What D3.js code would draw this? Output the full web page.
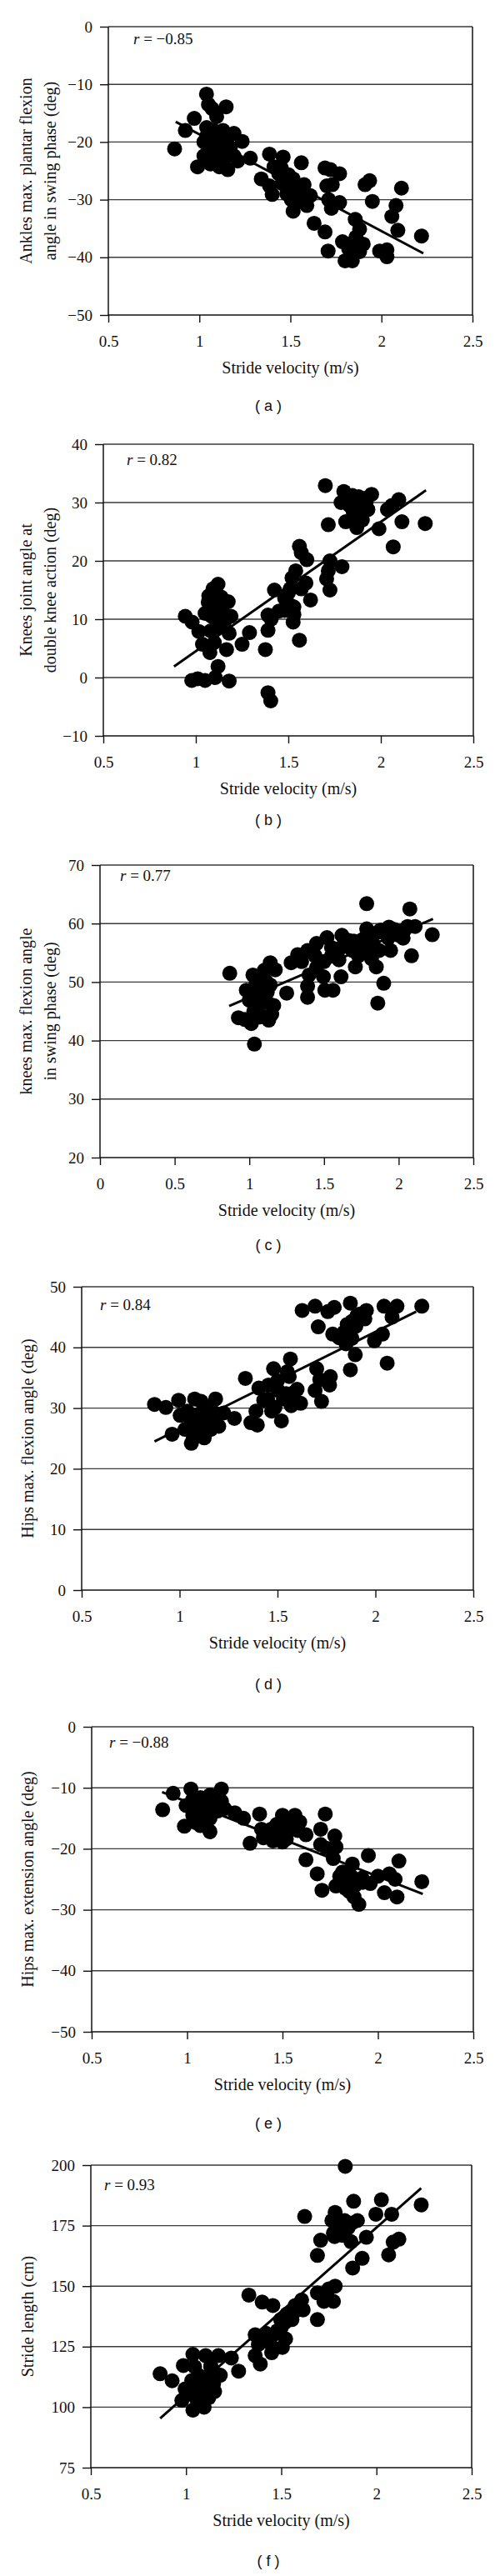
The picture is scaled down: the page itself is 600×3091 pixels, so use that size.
<!DOCTYPE html>
<html><head><meta charset="utf-8">
<script src="https://cdn.jsdelivr.net/npm/d3@7"></script>
<style>body{margin:0;background:#fff} svg{display:block}</style>
</head><body>
<svg id="chart" width="600" height="3091"></svg>
<script>
// ---------- DATA (stride velocity m/s, measured value) ----------
const xTicksStd = [0.5, 1, 1.5, 2, 2.5];
const xTicksC = [0, 0.5, 1, 1.5, 2, 2.5];

const ankleData = [[0.864,-21.2],[0.923,-18.0],[0.972,-15.9],[0.99,-24.3],[1.039,-11.7],[1.05,-13.5],[1.07,-14.2],[1.095,-15.6],[1.147,-13.9],[1.025,-20.0],[1.04,-17.5],[1.06,-21.6],[1.025,-22.4],[1.06,-23.8],[1.11,-24.3],[1.13,-18.0],[1.16,-19.0],[1.19,-18.5],[1.13,-20.4],[1.16,-21.6],[1.19,-22.4],[1.156,-24.8],[1.095,-21.9],[1.11,-19.5],[1.235,-19.9],[1.28,-22.8],[1.21,-23.3],[1.34,-26.4],[1.385,-22.1],[1.46,-22.6],[1.385,-27.6],[1.40,-29.1],[1.41,-24.3],[1.436,-25.5],[1.455,-27.2],[1.49,-25.7],[1.515,-26.4],[1.53,-28.1],[1.56,-23.6],[1.575,-27.4],[1.505,-30.0],[1.515,-32.0],[1.55,-29.6],[1.59,-31.0],[1.61,-29.3],[1.63,-34.1],[1.69,-24.5],[1.72,-24.8],[1.70,-27.6],[1.73,-27.4],[1.77,-25.5],[1.71,-30.0],[1.725,-31.5],[1.77,-30.5],[1.69,-35.6],[1.707,-38.9],[1.786,-37.3],[1.80,-40.6],[1.84,-40.6],[1.83,-37.7],[1.856,-33.4],[1.88,-35.1],[1.90,-37.7],[1.91,-27.4],[1.935,-26.7],[1.95,-30.3],[1.99,-38.9],[2.03,-38.7],[2.03,-39.9],[2.057,-32.9],[2.08,-31.0],[2.09,-35.3],[2.11,-28.0],[2.22,-36.3],
 [1.04,-19],[1.07,-20.5],[1.09,-22.5],[1.12,-21],[1.13,-23],[1.08,-18],[1.15,-19.5],[1.06,-23],[1.11,-19],[1.17,-21],[1.47,-26],[1.5,-28],[1.53,-30.5],[1.56,-28.5],[1.45,-24.5],[1.48,-29],[1.86,-36.5],[1.82,-38.5],[1.88,-39]];
const ankleFit = [[0.87,-16.5],[2.23,-39.3]];

const kneeDKAData = [[0.943,10.5],[0.98,9.5],[1.016,7.9],[0.978,-0.5],[1.01,-0.2],[1.05,-0.5],[1.105,0.0],[1.12,1.9],[1.18,-0.6],[1.036,5.7],[1.07,5.2],[1.076,4.3],[1.10,6.0],[1.166,4.8],[1.18,7.6],[1.067,12.9],[1.093,15.2],[1.12,16.0],[1.137,13.8],[1.175,13.0],[1.19,10.5],[1.154,9.5],[1.085,10.5],[1.05,11.0],[1.12,8.6],[1.137,11.4],[1.25,5.7],[1.29,7.7],[1.376,4.8],[1.39,8.1],[1.39,10.7],[1.407,10.0],[1.425,15.0],[1.39,-2.6],[1.405,-4.0],[1.45,11.4],[1.48,13.6],[1.51,12.4],[1.526,9.5],[1.53,12.1],[1.56,6.4],[1.52,17.1],[1.54,18.3],[1.51,15.2],[1.56,22.5],[1.57,21.4],[1.60,20.2],[1.595,16.2],[1.62,13.3],[1.57,15.2],[1.70,32.9],[1.716,26.2],[1.707,16.9],[1.725,15.0],[1.725,20.0],[1.716,18.3],[1.79,19.0],[1.785,30.0],[1.80,31.9],[1.81,26.7],[1.846,31.2],[1.863,27.6],[1.87,25.7],[1.89,29.8],[1.915,30.7],[1.93,28.8],[1.95,31.4],[1.99,25.5],[2.036,28.8],[2.06,29.5],[2.097,30.5],[2.067,22.4],[2.114,26.7],[2.24,26.4],
 [1.08,8],[1.1,10.5],[1.13,9],[1.1,12.5],[1.15,11],[1.07,14],[1.85,28.5],[1.9,27],[1.92,30],[1.88,31],[1.83,29.5],[1.48,11.5],[1.5,14.5],[1.53,10.8]];
const kneeDKAFit = [[0.882,1.9],[2.244,32.1]];

const kneeFlexData = [[0.869,51.5],[0.927,43.9],[0.97,43.6],[1.013,42.9],[1.034,39.4],[0.98,48.6],[1.024,51.2],[1.045,49.8],[1.00,46.9],[1.066,46.0],[1.088,44.1],[1.11,50.2],[1.14,53.3],[1.174,52.1],[1.163,46.0],[1.15,44.5],[1.077,47.9],[1.12,48.3],[1.056,47.4],[1.25,48.1],[1.28,53.3],[1.324,54.7],[1.39,55.4],[1.40,51.2],[1.39,49.3],[1.39,47.4],[1.45,56.6],[1.44,54.5],[1.496,50.9],[1.506,48.6],[1.52,57.6],[1.55,55.9],[1.56,48.6],[1.60,53.8],[1.614,50.9],[1.62,58.0],[1.667,57.1],[1.69,55.4],[1.71,52.6],[1.73,54.5],[1.76,57.3],[1.786,63.4],[1.786,59.1],[1.796,55.4],[1.818,54.0],[1.85,52.6],[1.87,55.4],[1.86,46.4],[1.90,49.8],[1.88,58.9],[1.935,59.4],[1.946,55.4],[2.0,58.0],[2.04,58.9],[2.075,62.5],[2.086,54.5],[2.11,59.5],[2.225,58.1],
 [1.03,45],[1.06,44],[1.09,48],[1.12,46.5],[1.14,49.5],[1.05,50],[1.1,52],[1.13,43.5],[1.02,47.5],[1.5,53.5],[1.55,54.5],[1.62,56],[1.7,57],[1.75,55],[1.8,57.5],[1.83,56.5],[1.86,58.5],[1.93,57.5],[1.97,59],[2.03,57.5],[2.06,59.5],[1.45,52.5],[1.35,53.5]];
const kneeFlexFit = [[0.865,45.9],[2.23,60.8]];

const hipFlexData = [[0.872,30.6],[0.93,30.1],[0.962,25.7],[0.995,31.3],[1.003,28.8],[1.028,26.5],[1.06,24.2],[1.077,31.5],[1.11,31.1],[1.10,28.3],[1.126,25.1],[1.16,26.5],[1.184,31.5],[1.175,27.9],[1.143,29.7],[1.06,27.9],[1.077,26.0],[1.225,29.2],[1.28,28.3],[1.336,34.9],[1.364,27.6],[1.397,27.2],[1.39,29.5],[1.405,33.3],[1.43,31.3],[1.454,33.8],[1.48,36.5],[1.487,30.1],[1.52,27.9],[1.503,32.9],[1.544,32.4],[1.56,35.2],[1.566,38.1],[1.57,30.4],[1.60,33.1],[1.618,30.8],[1.626,46.1],[1.692,46.8],[1.708,43.4],[1.70,36.5],[1.692,32.9],[1.725,31.1],[1.716,34.7],[1.77,35.2],[1.766,33.8],[1.757,45.9],[1.79,46.6],[1.782,42.2],[1.815,41.6],[1.85,40.6],[1.872,47.3],[1.856,43.8],[1.88,44.3],[1.872,36.3],[1.897,38.8],[1.905,45.2],[1.946,44.7],[1.954,46.1],[1.995,41.1],[2.036,42.2],[2.044,46.8],[2.06,37.4],[2.085,45.0],[2.11,46.8],[2.237,46.8],
 [1.04,29.5],[1.08,27],[1.1,29],[1.13,27.5],[1.15,30],[1.12,25.5],[1.07,25],[1.18,29.2],[1.2,27],[1.45,31.5],[1.5,34.5],[1.53,31.5],[1.58,32.5],[1.47,29.5],[1.55,36],[1.84,42.5],[1.88,41.5],[1.9,43.5],[1.92,45.5]];
const hipFlexFit = [[0.872,24.5],[2.208,45.9]];

const hipExtData = [[0.872,-13.6],[0.927,-10.9],[1.02,-10.2],[0.995,-12.9],[0.986,-16.3],[1.045,-15.7],[1.028,-12.0],[1.07,-11.6],[1.095,-13.4],[1.12,-15.0],[1.12,-17.2],[1.11,-12.2],[1.145,-12.9],[1.18,-10.2],[1.18,-12.2],[1.196,-13.4],[1.078,-13.8],[1.25,-14.1],[1.296,-15.0],[1.33,-19.1],[1.38,-14.3],[1.39,-16.8],[1.40,-18.2],[1.44,-16.8],[1.464,-18.2],[1.50,-14.5],[1.48,-16.1],[1.52,-16.1],[1.52,-18.4],[1.565,-14.5],[1.59,-15.6],[1.623,-17.7],[1.623,-21.8],[1.682,-24.1],[1.707,-26.8],[1.70,-16.8],[1.724,-14.3],[1.70,-19.3],[1.73,-19.9],[1.774,-17.9],[1.78,-19.7],[1.766,-21.6],[1.78,-26.1],[1.815,-23.8],[1.84,-25.7],[1.866,-22.5],[1.875,-27.9],[1.90,-29.1],[1.917,-24.8],[1.95,-21.1],[1.96,-25.7],[2.0,-24.5],[2.034,-27.2],[2.06,-24.1],[2.09,-25.0],[2.10,-27.9],[2.11,-22.0],[2.23,-25.4],
 [1.05,-13],[1.08,-14.5],[1.1,-12],[1.13,-14],[1.16,-13.8],[1.03,-14.5],[1.07,-16.2],[1.12,-11.2],[1.42,-17.5],[1.47,-16],[1.5,-17.5],[1.55,-16.5],[1.58,-17],[1.45,-18.7],[1.5,-18.9],[1.8,-24.5],[1.83,-26.5],[1.86,-24.5],[1.88,-26],[1.92,-25.5],[1.85,-27]];
const hipExtFit = [[0.869,-10.7],[2.235,-27.4]];

const strideLenData = [[0.864,113.8],[0.927,110.9],[0.986,117.2],[1.036,121.8],[1.103,121.3],[1.17,121.3],[1.045,116.7],[0.978,102.8],[0.995,107.5],[1.036,98.8],[1.095,100.0],[1.12,104.0],[1.06,109.8],[1.095,112.1],[1.145,109.8],[1.154,113.8],[1.18,113.2],[1.13,116.7],[1.028,106.3],[1.06,102.8],[1.238,120.3],[1.276,114.9],[1.33,146.3],[1.40,143.4],[1.363,129.9],[1.38,125.9],[1.363,121.3],[1.39,117.8],[1.414,129.3],[1.456,142.0],[1.456,124.7],[1.48,131.6],[1.497,136.2],[1.506,124.7],[1.523,128.2],[1.53,138.5],[1.556,136.2],[1.573,142.0],[1.607,144.3],[1.615,140.2],[1.623,178.8],[1.69,162.7],[1.69,147.2],[1.69,136.2],[1.707,169.0],[1.724,143.7],[1.75,148.9],[1.774,143.7],[1.783,150.0],[1.766,177.1],[1.783,180.5],[1.774,171.9],[1.807,172.5],[1.833,177.1],[1.836,199.5],[1.866,168.4],[1.88,185.1],[1.875,157.5],[1.90,177.1],[1.925,161.5],[1.947,170.2],[1.997,179.7],[2.026,185.7],[2.064,162.9],[2.08,179.7],[2.088,168.2],[2.118,169.4],[2.235,183.6],
 [1.05,104],[1.08,107],[1.1,110],[1.12,108],[1.07,113],[1.15,106.5],[1.03,111],[1.1,103.5],[1.13,117],[1.43,127],[1.46,130],[1.5,133],[1.52,135],[1.55,138],[1.58,140],[1.45,122.5],[1.42,130.5],[1.8,175],[1.82,171],[1.85,174],[1.87,176],[1.78,170.5]];
const strideLenFit = [[0.864,95.4],[2.235,190.5]];

const yTicksA = [-50,-40,-30,-20,-10,0];
const yTicksB = [-10,0,10,20,30,40];
const yTicksC = [20,30,40,50,60,70];
const yTicksD = [0,10,20,30,40,50];
const yTicksE = [-50,-40,-30,-20,-10,0];
const yTicksF = [75,100,125,150,175,200];

const yLabels = [
  ["Ankles max. plantar flexion","angle in swing phase (deg)"],
  ["Knees joint angle at","double knee action (deg)"],
  ["knees max. flexion angle","in swing phase (deg)"],
  ["Hips max. flexion angle (deg)"],
  ["Hips max. extension angle (deg)"],
  ["Stride length (cm)"]
];
const rValues = ["\u22120.85","0.82","0.77","0.84","\u22120.88","0.93"];
const letters = ["a","b","c","d","e","f"];
const xTitle = "Stride velocity (m/s)";

// ---------- LAYOUT ----------
const panels = [
  {data: ankleData, fit: ankleFit, yTicks: yTicksA, xTicks: xTicksStd, left:130, right:567, top:32, bottom:378, rx:160, ry:53, lab:115},
  {data: kneeDKAData, fit: kneeDKAFit, yTicks: yTicksB, xTicks: xTicksStd, left:124, right:568, top:533, bottom:883, rx:152, ry:558, lab:107},
  {data: kneeFlexData, fit: kneeFlexFit, yTicks: yTicksC, xTicks: xTicksC, left:120, right:568, top:1038, bottom:1389, rx:144, ry:1057, lab:111},
  {data: hipFlexData, fit: hipFlexFit, yTicks: yTicksD, xTicks: xTicksStd, left:98, right:568, top:1544, bottom:1908, rx:120, ry:1572, lab:119},
  {data: hipExtData, fit: hipExtFit, yTicks: yTicksE, xTicks: xTicksStd, left:110, right:568, top:2072, bottom:2438, rx:131, ry:2097, lab:116},
  {data: strideLenData, fit: strideLenFit, yTicks: yTicksF, xTicks: xTicksStd, left:109, right:566, top:2598, bottom:2961, rx:125, ry:2628, lab:118}
];

const serif = "'Liberation Serif','Times New Roman',serif";
const svg = d3.select("#chart");

panels.forEach((p, i) => {
  const x = d3.scaleLinear().domain(d3.extent(p.xTicks)).range([p.left, p.right]);
  const y = d3.scaleLinear().domain(d3.extent(p.yTicks)).range([p.bottom, p.top]);
  const g = svg.append("g");

  // horizontal gridlines
  g.append("g").selectAll("line").data(p.yTicks.slice(1)).join("line")
    .attr("x1", p.left).attr("x2", p.right)
    .attr("y1", d => y(d)).attr("y2", d => y(d))
    .attr("stroke", "#3a3a3a").attr("stroke-width", 1.4);

  // left axis
  const ya = g.append("g").attr("transform", `translate(${p.left},0)`)
    .call(d3.axisLeft(y).tickValues(p.yTicks).tickSize(10).tickPadding(9)
      .tickFormat(d => d < 0 ? "\u2212" + Math.abs(d) : String(d)));
  ya.select(".domain").remove();
  ya.selectAll("line").attr("stroke", "#111").attr("stroke-width", 1.4);
  ya.selectAll("text").attr("font-family", serif).attr("font-size", 19).attr("fill", "#111");

  // bottom axis
  const xa = g.append("g").attr("transform", `translate(0,${p.bottom})`)
    .call(d3.axisBottom(x).tickValues(p.xTicks).tickSize(9).tickPadding(16)
      .tickFormat(d => String(d)));
  xa.select(".domain").remove();
  xa.selectAll("line").attr("stroke", "#111").attr("stroke-width", 1.4);
  xa.selectAll("text").attr("font-family", serif).attr("font-size", 19).attr("fill", "#111");

  // frame: left, bottom, right
  g.append("line").attr("x1", p.left).attr("x2", p.left).attr("y1", p.top).attr("y2", p.bottom)
    .attr("stroke", "#111").attr("stroke-width", 1.5);
  g.append("line").attr("x1", p.left).attr("x2", p.right).attr("y1", p.bottom).attr("y2", p.bottom)
    .attr("stroke", "#111").attr("stroke-width", 1.5);
  g.append("line").attr("x1", p.right).attr("x2", p.right).attr("y1", p.top).attr("y2", p.bottom)
    .attr("stroke", "#111").attr("stroke-width", 1.5);

  // points
  g.append("g").selectAll("circle").data(p.data).join("circle")
    .attr("cx", d => x(d[0])).attr("cy", d => y(d[1])).attr("r", 9).attr("fill", "#000");

  // regression line
  g.append("line")
    .attr("x1", x(p.fit[0][0])).attr("y1", y(p.fit[0][1]))
    .attr("x2", x(p.fit[1][0])).attr("y2", y(p.fit[1][1]))
    .attr("stroke", "#000").attr("stroke-width", 3);

  // r annotation
  const rt = g.append("text").attr("x", p.rx).attr("y", p.ry)
    .attr("font-family", serif).attr("font-size", 19).attr("fill", "#111");
  rt.append("tspan").attr("font-style", "italic").text("r");
  rt.append("tspan").text(" = " + rValues[i]);

  // y label
  const cy = (p.top + p.bottom) / 2;
  const lines = yLabels[i];
  const xs = lines.length === 2 ? [38, 67] : [40];
  lines.forEach((t, k) => {
    g.append("text").attr("transform", `translate(${xs[k]},${cy}) rotate(-90)`)
      .attr("text-anchor", "middle").attr("font-family", serif).attr("font-size", 20)
      .attr("fill", "#111").text(t);
  });

  // x title
  g.append("text").attr("x", (p.left + p.right) / 2).attr("y", p.bottom + 70)
    .attr("text-anchor", "middle").attr("font-family", serif).attr("font-size", 20)
    .attr("fill", "#111").text(xTitle);

  // panel letter
  g.append("text").attr("x", 322).attr("y", p.bottom + p.lab)
    .attr("text-anchor", "middle").attr("font-family", "'Liberation Sans',Arial,sans-serif")
    .attr("font-size", 18).attr("fill", "#111").text("( " + letters[i] + " )");
});
</script>
</body></html>
